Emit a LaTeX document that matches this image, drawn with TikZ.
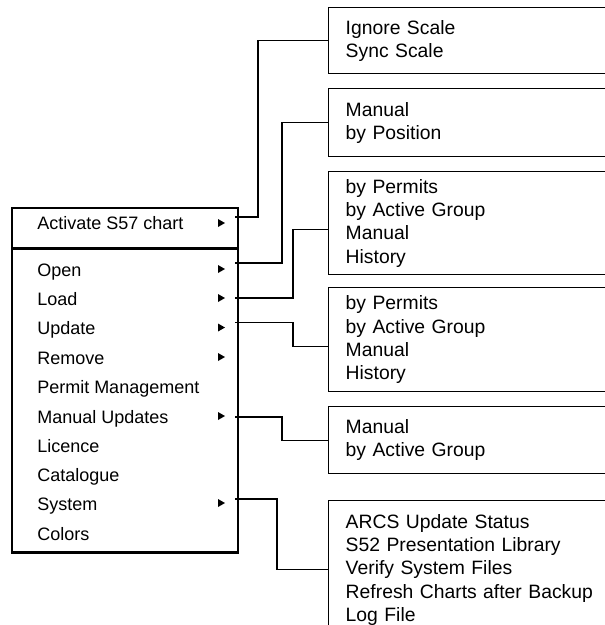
\documentclass[tikz,border=0pt]{standalone}
\usepackage{fontspec}
\setmainfont{Liberation Sans}
\begin{document}
\begin{tikzpicture}[x=0.75pt,y=0.75pt,yscale=-1,xscale=1,
    item/.style={anchor=base west,inner sep=0pt,font=\fontsize{13.5}{16}\selectfont},
    subbox/.style={draw,line width=1.1pt,anchor=north west,align=left,text width=225pt,inner xsep=12.75pt,inner ysep=0pt,font=\fontsize{14.5}{17.5}\selectfont},
    conn/.style={line width=1.1pt}]
    \clip (0,0) rectangle (605,625);

    %Shape: Menu frame
    \draw [line width=0.8pt] (12,208) rectangle (238,553) ;
    \draw [line width=2pt] (12,552.5) -- (238,552.5) ;
    %Straight Lines: separator
    \draw [line width=2pt] (12,248.5) -- (238,248.5) ;

    % Text Node
    \node [item] (act) at (37,229.5) {Activate S57 chart};
    \node [item] (open) at (37,276) {Open};
    \node [item] (load) at (37,305) {Load};
    \node [item] (upd) at (37,334.5) {Update};
    \node [item] (rem) at (37,364) {Remove};
    \node [item] (perm) at (37,393) {Permit Management};
    \node [item] (manupd) at (37,423) {Manual Updates};
    \node [item] (lic) at (37,452) {Licence};
    \node [item] (cat) at (37,481) {Catalogue};
    \node [item] (sys) at (37,510) {System};
    \node [item] (col) at (37,540) {Colors};

    %Shape: submenu marks
    \fill (218,219) -- (225,223) -- (218,227) -- cycle ;
    \fill (218,265) -- (225,269) -- (218,273) -- cycle ;
    \fill (218,294) -- (225,298) -- (218,302) -- cycle ;
    \fill (218,323.5) -- (225,327.5) -- (218,331.5) -- cycle ;
    \fill (218,353) -- (225,357) -- (218,361) -- cycle ;
    \fill (218,412) -- (225,416) -- (218,420) -- cycle ;
    \fill (218,499) -- (225,503) -- (218,507) -- cycle ;

    % Submenu boxes
    \node [subbox,minimum height=49.5pt] (scale) at (328,7) {Ignore Scale\\Sync Scale};
    \node [subbox,minimum height=51pt] (openbox) at (328,88) {Manual\\by Position};
    \node [subbox,minimum height=77.25pt] (loadbox) at (328,171) {by Permits\\by Active Group\\Manual\\History};
    \node [subbox,minimum height=78pt] (updbox) at (328,287) {by Permits\\by Active Group\\Manual\\History};
    \node [subbox,minimum height=50.25pt] (manbox) at (328,406) {Manual\\by Active Group};
    \node [subbox,minimum height=103.5pt] (sysbox) at (328,500) {ARCS Update Status\\S52 Presentation Library\\Verify System Files\\Refresh Charts after Backup\\Log File};

    % Connector start points
    \coordinate (c1) at (235,217);
    \coordinate (c2) at (235,263);
    \coordinate (c3) at (235,298);
    \coordinate (c4) at (235,322.5);
    \coordinate (c5) at (235,417);
    \coordinate (c6) at (235,499);

    %Straight Lines
    \draw [conn] (c1) -- ++(23,0) |- (scale.west) ;
    \draw [conn] (c2) -- ++(47,0) |- (openbox.west) ;
    \draw [conn] (c3) -- ++(58,0) |- ([yshift=4.5pt]loadbox.west) ;
    \draw [conn] (c4) -- ++(58,0) |- ([yshift=5.25pt]updbox.west) ;
    \draw [conn] (c5) -- ++(47,0) |- (manbox.west) ;
    \draw [conn] (c6) -- ++(42,0) |- (sysbox.west) ;

\end{tikzpicture}
\end{document}
